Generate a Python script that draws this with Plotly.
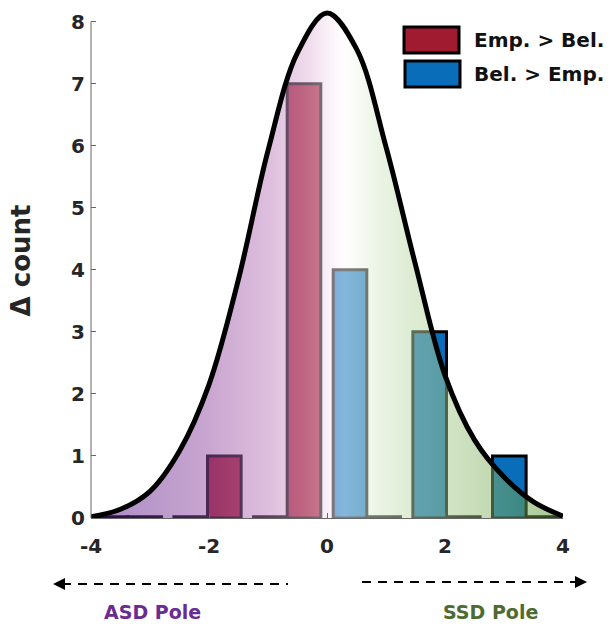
import plotly.graph_objects as go

# ---------------- data ----------------
bin_centers = [-3.375, -2.025, -0.675, 0.675, 2.025, 3.375]
bel_gt_emp = [0, 0, 0, 4, 3, 1]      # blue series
emp_gt_bel = [0, 1, 7, 0, 0, 0]      # red series

curve_x = [-4.0, -3.5, -3.0, -2.5, -2.0, -1.5, -1.0, -0.5, 0.0,
           0.5, 1.0, 1.5, 2.0, 2.5, 3.0, 3.5, 4.0]
curve_y = [0.02, 0.14, 0.43, 1.08, 2.15, 3.85, 5.92, 7.50, 8.14,
           7.56, 5.98, 4.08, 2.30, 1.26, 0.66, 0.26, 0.03]

x_tickvals = [-4, -2, 0, 2, 4]
x_ticktext = ["-4", "-2", "0", "2", "4"]
y_tickvals = [0, 1, 2, 3, 4, 5, 6, 7, 8]

series_names = ["Emp. > Bel.", "Bel. > Emp."]
RED = "#A11B30"
BLUE = "#0A6DBA"

FONT = "DejaVu Sans"

# ---------------- layout helpers (pixel -> paper) ----------------
W, H = 616, 632
ML, MR, MT, MB = 91, 53, 3, 114
PW, PH = W - ML - MR, H - MT - MB


def PX(px):
    return (px - ML) / PW


def PY(py):
    return (H - MB - py) / PH


# zero-valued bars are shown as flat outlines on the baseline
def shown(vals):
    return [v if v > 0 else 0.02 for v in vals]


fig = go.Figure()

fig.add_trace(go.Bar(
    x=bin_centers, y=shown(bel_gt_emp), name=series_names[1],
    marker=dict(color=BLUE, line=dict(color="black", width=3)),
    cliponaxis=False, showlegend=False,
))
fig.add_trace(go.Bar(
    x=bin_centers, y=shown(emp_gt_bel), name=series_names[0],
    marker=dict(color=RED, line=dict(color="black", width=3)),
    cliponaxis=False, showlegend=False,
))

grad = [
    [0.0, "rgba(81,23,139,0.5)"],
    [0.25, "rgba(147,77,161,0.5)"],
    [0.375, "rgba(187,125,187,0.5)"],
    [0.4625, "rgba(225,185,217,0.5)"],
    [0.5, "rgba(243,225,239,0.5)"],
    [0.5375, "rgba(255,255,255,0.5)"],
    [0.5875, "rgba(225,239,217,0.5)"],
    [0.65, "rgba(199,223,181,0.5)"],
    [0.75, "rgba(167,203,141,0.5)"],
    [0.875, "rgba(125,173,93,0.5)"],
    [1.0, "rgba(83,143,41,0.5)"],
]

fig.add_trace(go.Scatter(
    x=curve_x, y=curve_y, mode="lines",
    line=dict(color="black", width=5, shape="spline", smoothing=1.0),
    fill="tozeroy",
    fillgradient=dict(type="horizontal", colorscale=grad, start=-4, stop=4),
    showlegend=False, hoverinfo="skip",
))

fig.update_layout(
    width=W, height=H,
    margin=dict(l=ML, r=MR, t=MT, b=MB),
    plot_bgcolor="white", paper_bgcolor="white",
    barmode="group", bargap=0.156, bargroupgap=0,
    showlegend=False,
    font=dict(family=FONT, color="#262626"),
)

fig.update_xaxes(
    range=[-4, 4], tickvals=x_tickvals, ticktext=x_ticktext,
    showline=True, linecolor="#666", linewidth=1,
    ticks="inside", ticklen=5, tickcolor="#666",
    showgrid=False, zeroline=False, ticklabelstandoff=10,
    tickfont=dict(family=FONT, size=20, color="#262626", weight="bold"),
)
fig.update_yaxes(
    range=[0, 8.3], tickvals=y_tickvals,
    showline=False, ticks="inside", ticklen=5, tickcolor="#666",
    showgrid=False, zeroline=False, ticklabelstandoff=5,
    tickfont=dict(family=FONT, size=20, color="#262626", weight="bold"),
    title=dict(text="Δ count", font=dict(family=FONT, size=26, color="#262626", weight="bold"),
               standoff=32),
)

shapes = [
    # y axis line (0 to 8)
    dict(type="line", xref="x domain", yref="y", x0=0, x1=0, y0=0, y1=8,
         line=dict(color="#666", width=1)),
    # legend boxes
    dict(type="rect", xref="paper", yref="paper", x0=PX(404), x1=PX(459), y0=PY(53), y1=PY(27),
         fillcolor=RED, line=dict(color="black", width=3)),
    dict(type="rect", xref="paper", yref="paper", x0=PX(405), x1=PX(460), y0=PY(87), y1=PY(61),
         fillcolor=BLUE, line=dict(color="black", width=3)),
    # pole arrows
    dict(type="line", xref="paper", yref="paper", x0=PX(62), x1=PX(288), y0=PY(584), y1=PY(584),
         line=dict(color="black", width=2, dash="9px,7px")),
    dict(type="line", xref="paper", yref="paper", x0=PX(362), x1=PX(578), y0=PY(582), y1=PY(582),
         line=dict(color="black", width=2, dash="9px,7px")),
]
fig.update_layout(shapes=shapes)

annotations = [
    dict(xref="paper", yref="paper", x=PX(472), y=PY(40), text="<b>" + series_names[0].replace(">", "&gt;") + "</b>",
         showarrow=False, xanchor="left", yanchor="middle",
         font=dict(family=FONT, size=20, color="#111")),
    dict(xref="paper", yref="paper", x=PX(472), y=PY(74), text="<b>" + series_names[1].replace(">", "&gt;") + "</b>",
         showarrow=False, xanchor="left", yanchor="middle",
         font=dict(family=FONT, size=20, color="#111")),
    dict(xref="paper", yref="paper", x=PX(53), y=PY(584), text="", showarrow=True,
         ax=12, ay=0, arrowhead=2, arrowsize=1.2, arrowwidth=2, arrowcolor="black"),
    dict(xref="paper", yref="paper", x=PX(587), y=PY(582), text="", showarrow=True,
         ax=-12, ay=0, arrowhead=2, arrowsize=1.2, arrowwidth=2, arrowcolor="black"),
    dict(xref="paper", yref="paper", x=PX(152), y=PY(612), text="<b>ASD Pole</b>",
         showarrow=False, xanchor="center", yanchor="middle",
         font=dict(family=FONT, size=19, color="#6B2C91")),
    dict(xref="paper", yref="paper", x=PX(490), y=PY(612), text="<b>SSD Pole</b>",
         showarrow=False, xanchor="center", yanchor="middle",
         font=dict(family=FONT, size=19, color="#4E6B30")),
]
fig.update_layout(annotations=annotations)

fig.write_html("out.html", config={"displayModeBar": False},
               post_script="document.body.style.margin='0';document.body.style.overflow='hidden';")
